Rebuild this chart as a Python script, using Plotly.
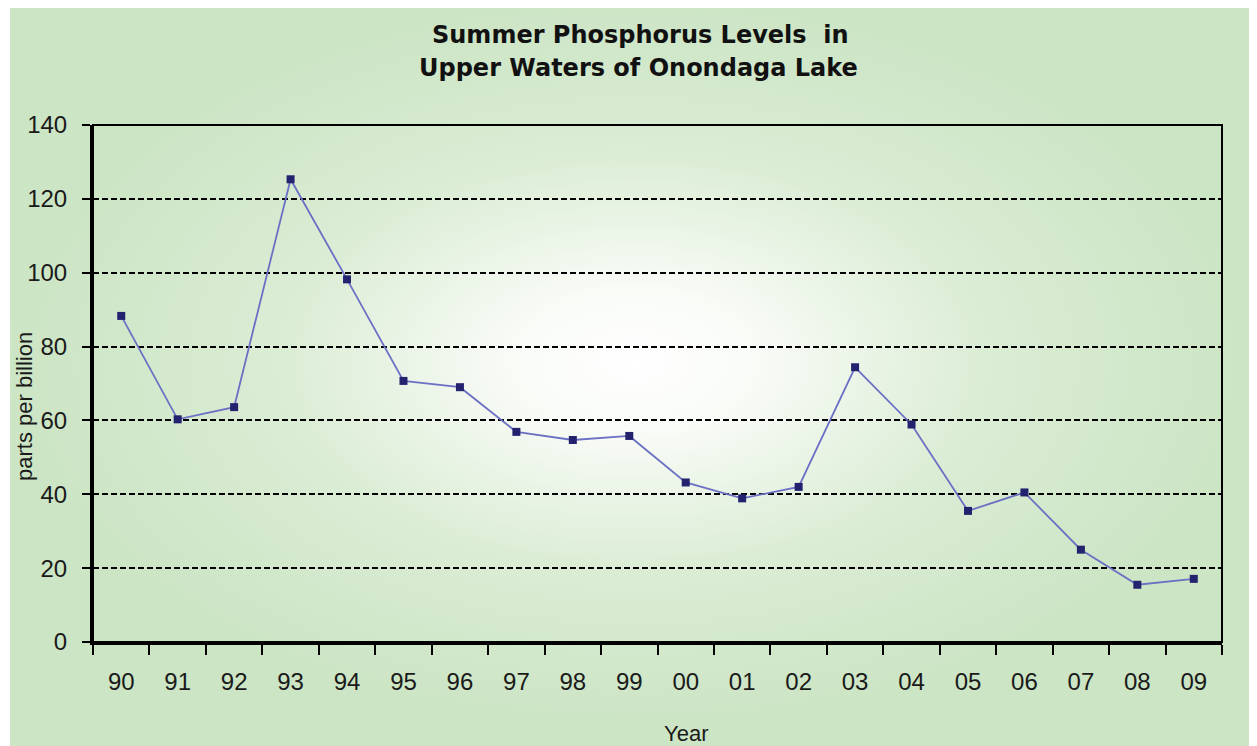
import base64
import plotly.graph_objects as go

years = ["90", "91", "92", "93", "94", "95", "96", "97", "98", "99",
         "00", "01", "02", "03", "04", "05", "06", "07", "08", "09"]
phosphorus_ppb = [88.3, 60.3, 63.6, 125.3, 98.2, 70.7, 69.0, 56.9, 54.7, 55.8,
                  43.2, 38.9, 42.0, 74.4, 58.9, 35.5, 40.5, 25.0, 15.5, 17.1]
title_lines = ["Summer Phosphorus Levels  in", "Upper Waters of Onondaga Lake"]
y_title = "parts per billion"
x_title = "Year"

# radial gradient background panel (svg data uri)
svg = (
    '<svg xmlns="http://www.w3.org/2000/svg" width="1247" height="740" viewBox="0 0 1247 740">'
    '<defs><radialGradient id="g" cx="0.5" cy="0.48" r="0.5" fx="0.5" fy="0.48">'
    '<stop offset="0" stop-color="#ffffff"/>'
    '<stop offset="0.2" stop-color="#f8fbf6"/>'
    '<stop offset="0.55" stop-color="#dcedd6"/>'
    '<stop offset="0.85" stop-color="#d0e7c9"/>'
    '<stop offset="1" stop-color="#cce5c4"/>'
    '</radialGradient></defs>'
    '<rect x="0" y="0" width="1247" height="740" fill="url(#g)"/></svg>'
)
svg_uri = "data:image/svg+xml;base64," + base64.b64encode(svg.encode()).decode()

OFF = 8  # page body margin in the browser
W, H = 1257, 746
L, R, T, B = 93 - OFF, 1222 - OFF, 125 - OFF, 642 - OFF
pw, ph = R - L, B - T


def px(x):
    return (x - OFF - L) / pw


def py(y):
    return (B - (y - OFF)) / ph


FONT = "Liberation Sans, Arial"

fig = go.Figure()
fig.add_trace(go.Scatter(
    x=years, y=phosphorus_ppb, mode="lines+markers",
    line=dict(color="#6c70c4", width=1.8),
    marker=dict(symbol="square", size=8, color="#22226e"),
    hoverinfo="x+y", showlegend=False,
))

fig.update_layout(
    width=W, height=H,
    margin=dict(l=L, r=W - R, t=T, b=H - B),
    paper_bgcolor="white",
    plot_bgcolor="rgba(0,0,0,0)",
    images=[dict(source=svg_uri, xref="paper", yref="paper",
                 x=px(10), y=py(6), sizex=px(1257) - px(10), sizey=py(6) - py(746),
                 xanchor="left", yanchor="top", sizing="stretch", layer="below")],
    xaxis=dict(
        type="category", range=[-0.5, 19.5], tickson="boundaries",
        ticks="outside", ticklen=10, tickwidth=2, tickcolor="black",
        showline=True, linecolor="black", linewidth=3,
        showgrid=False, zeroline=False,
        tickfont=dict(family=FONT, size=24, color="#1a1a1a"),
        ticklabelstandoff=16,
    ),
    yaxis=dict(
        range=[0, 140], dtick=20, tick0=0,
        ticks="outside", ticklen=8, tickwidth=2, tickcolor="black",
        showline=True, linecolor="black", linewidth=3,
        showgrid=True, gridcolor="black", gridwidth=1.5, griddash="6px,3px",
        zeroline=False,
        tickfont=dict(family=FONT, size=24, color="#1a1a1a"),
        ticklabelstandoff=10,
    ),
    shapes=[dict(type="rect", xref="paper", yref="paper", x0=0, x1=1, y0=0, y1=1,
                 line=dict(color="black", width=2), layer="above")],
    annotations=[
        dict(text=title_lines[0], xref="paper", yref="paper", x=px(640), y=py(35),
             xanchor="center", yanchor="middle", showarrow=False,
             font=dict(family="DejaVu Sans", size=24, color="#111111", weight="bold")),
        dict(text=title_lines[1], xref="paper", yref="paper", x=px(638), y=py(68),
             xanchor="center", yanchor="middle", showarrow=False,
             font=dict(family="DejaVu Sans", size=24, color="#111111", weight="bold")),
        dict(text=y_title, xref="paper", yref="paper", x=px(24), y=py(407),
             xanchor="center", yanchor="middle", showarrow=False, textangle=-90,
             font=dict(family=FONT, size=22, color="#1a1a1a")),
        dict(text=x_title, xref="paper", yref="paper", x=px(686), y=py(719),
             xanchor="center", yanchor="top", showarrow=False,
             font=dict(family=FONT, size=22, color="#1a1a1a")),
    ],
)

fig.write_html("out.html")
